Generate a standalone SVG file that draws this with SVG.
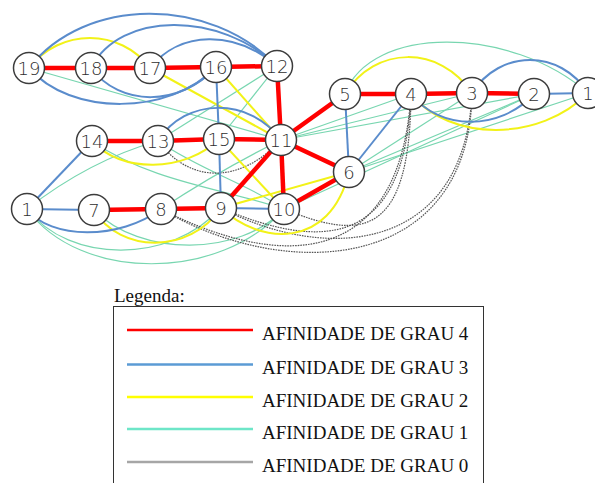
<svg xmlns="http://www.w3.org/2000/svg" width="595" height="483" viewBox="0 0 595 483">
  <style>
    .e4 { stroke: #ff0000; stroke-width: 4.5; fill: none; }
    .e3 { stroke: #5a8ccc; stroke-width: 2; fill: none; }
    .e2 { stroke: #f2f218; stroke-width: 2; fill: none; }
    .e1 { stroke: #78d6b0; stroke-width: 1.2; fill: none; }
    .e0 { stroke: #555555; stroke-width: 1.2; stroke-dasharray: 1.6 1; fill: none; }
    .node circle { fill: #ffffff; stroke: #3c3c3c; stroke-width: 1.5; }
    .node text { font-family: "DejaVu Sans", "Liberation Sans", sans-serif; font-weight: 200; font-size: 18px; fill: #2e2e2e; text-anchor: middle; }
    .leg { font-family: "Liberation Serif", "Times New Roman", serif; font-size: 19px; fill: #111111; }
  </style>
  <rect width="595" height="483" fill="#ffffff"/>

  <g id="connectors">
    <!-- grade 1 -->
    <path class="e1" d="M29,68 L281,140"/>
    <path class="e1" d="M277,66 L158,141"/>
    <path class="e1" d="M277,66 L219,139"/>
    <path class="e1" d="M281,140 L411,94"/>
    <path class="e1" d="M281,140 L472,93"/>
    <path class="e1" d="M281,140 L534,94"/>
    <path class="e1" d="M349,172 L472,93"/>
    <path class="e1" d="M349,172 L534,94"/>
    <path class="e1" d="M349,172 L588,93"/>
    <path class="e1" d="M284,209 L534,94"/>
    <path class="e1" d="M345,94 C370,25 510,25 588,93"/>
    <path class="e1" d="M27,209 Q90,160 158,141"/>
    <path class="e1" d="M161,209 Q220,170 281,140"/>
    <path class="e1" d="M92,141 C150,182 230,190 284,209"/>
    <path class="e1" d="M158,141 C200,170 250,185 284,209"/>
    <path class="e1" d="M27,209 C70,264 170,264 221,208"/>
    <path class="e1" d="M27,209 C80,282 220,282 284,209"/>
    <path class="e1" d="M94,210 C140,257 240,257 284,209"/>
    <!-- grade 0 -->
    <path class="e0" d="M158,141 C190,184 240,184 281,140"/>
    <path class="e0" d="M284,209 C360,240 410,240 411,94"/>
    <path class="e0" d="M221,208 C320,250 405,250 411,94"/>
    <path class="e0" d="M161,209 C280,270 400,270 411,94"/>
    <path class="e0" d="M161,209 C290,285 470,270 472,93"/>
    <path class="e0" d="M221,208 C330,265 465,250 472,93"/>
    <!-- grade 2 -->
    <path class="e2" d="M29,68 C60,28 120,28 150,68"/>
    <path class="e2" d="M150,68 L281,140"/>
    <path class="e2" d="M216,67 L281,140"/>
    <path class="e2" d="M219,139 L284,209"/>
    <path class="e2" d="M92,141 C120,173 185,173 219,139"/>
    <path class="e2" d="M221,208 L349,172"/>
    <path class="e2" d="M94,210 C120,254 190,254 221,208"/>
    <path class="e2" d="M221,208 C260,245 330,250 349,172"/>
    <path class="e2" d="M345,94 C375,45 440,45 472,93"/>
    <path class="e2" d="M411,94 C450,142 540,142 588,93"/>
    <!-- grade 3 -->
    <path class="e3" d="M29,68 C85,-4 210,-4 277,66"/>
    <path class="e3" d="M91,68 C120,11 220,11 277,66"/>
    <path class="e3" d="M150,68 C180,30 235,30 277,66"/>
    <path class="e3" d="M91,68 C120,107 180,107 216,67"/>
    <path class="e3" d="M29,68 C70,116 170,116 216,67"/>
    <path class="e3" d="M158,141 C185,97 250,97 281,140"/>
    <path class="e3" d="M216,67 L219,139"/>
    <path class="e3" d="M219,139 L221,208"/>
    <path class="e3" d="M92,141 L27,209"/>
    <path class="e3" d="M27,209 L94,210"/>
    <path class="e3" d="M27,209 C50,240 120,240 161,209"/>
    <path class="e3" d="M221,208 L284,209"/>
    <path class="e3" d="M345,94 L349,172"/>
    <path class="e3" d="M349,172 L411,94"/>
    <path class="e3" d="M411,94 C440,131 500,131 534,94"/>
    <path class="e3" d="M472,93 C500,49 560,49 588,93"/>
    <path class="e3" d="M534,94 L588,93"/>
    <!-- grade 4 -->
    <path class="e4" d="M29,68 L91,68 L150,68 L216,67 L277,66 L281,140"/>
    <path class="e4" d="M92,141 L158,141 L219,139 L281,140"/>
    <path class="e4" d="M281,140 L345,94 L411,94 L472,93 L534,94"/>
    <path class="e4" d="M281,140 L349,172 L284,209"/>
    <path class="e4" d="M281,140 L284,209"/>
    <path class="e4" d="M281,140 L221,208"/>
    <path class="e4" d="M94,210 L161,209 L221,208"/>
  </g>

  <g id="node-19" class="node"><circle cx="29" cy="68" r="15.5"/><text x="29" y="74.5">19</text></g>
  <g id="node-18" class="node"><circle cx="91" cy="68" r="15.5"/><text x="91" y="74.5">18</text></g>
  <g id="node-17" class="node"><circle cx="150" cy="68" r="15.5"/><text x="150" y="74.5">17</text></g>
  <g id="node-16" class="node"><circle cx="216" cy="67" r="15.5"/><text x="216" y="73.5">16</text></g>
  <g id="node-12" class="node"><circle cx="277" cy="66" r="15.5"/><text x="277" y="72.5">12</text></g>
  <g id="node-5" class="node"><circle cx="345" cy="94" r="15.5"/><text x="345" y="100.5">5</text></g>
  <g id="node-4" class="node"><circle cx="411" cy="94" r="15.5"/><text x="411" y="100.5">4</text></g>
  <g id="node-3" class="node"><circle cx="472" cy="93" r="15.5"/><text x="472" y="99.5">3</text></g>
  <g id="node-2" class="node"><circle cx="534" cy="94" r="15.5"/><text x="534" y="100.5">2</text></g>
  <g id="node-1b" class="node"><circle cx="588" cy="93" r="15.5"/><text x="588" y="99.5">1</text></g>
  <g id="node-14" class="node"><circle cx="92" cy="141" r="15.5"/><text x="92" y="147.5">14</text></g>
  <g id="node-13" class="node"><circle cx="158" cy="141" r="15.5"/><text x="158" y="147.5">13</text></g>
  <g id="node-15" class="node"><circle cx="219" cy="139" r="15.5"/><text x="219" y="145.5">15</text></g>
  <g id="node-11" class="node"><circle cx="281" cy="140" r="15.5"/><text x="281" y="146.5">11</text></g>
  <g id="node-6" class="node"><circle cx="349" cy="172" r="15.5"/><text x="349" y="178.5">6</text></g>
  <g id="node-1a" class="node"><circle cx="27" cy="209" r="15.5"/><text x="27" y="215.5">1</text></g>
  <g id="node-7" class="node"><circle cx="94" cy="210" r="15.5"/><text x="94" y="216.5">7</text></g>
  <g id="node-8" class="node"><circle cx="161" cy="209" r="15.5"/><text x="161" y="215.5">8</text></g>
  <g id="node-9" class="node"><circle cx="221" cy="208" r="15.5"/><text x="221" y="214.5">9</text></g>
  <g id="node-10" class="node"><circle cx="284" cy="209" r="15.5"/><text x="284" y="215.5">10</text></g>

  <g id="legend">
    <text class="leg" x="114" y="302">Legenda:</text>
    <rect x="113.5" y="306.5" width="370" height="200" fill="none" stroke="#333333" stroke-width="1"/>
    <line x1="127" y1="330" x2="253" y2="330" stroke="#ff0000" stroke-width="2.5"/>
    <text class="leg" x="262" y="340">AFINIDADE DE GRAU 4</text>
    <line x1="127" y1="364.5" x2="253" y2="364.5" stroke="#5b9bd5" stroke-width="2.5"/>
    <text class="leg" x="262" y="374">AFINIDADE DE GRAU 3</text>
    <line x1="127" y1="397" x2="253" y2="397" stroke="#ffff00" stroke-width="2.5"/>
    <text class="leg" x="262" y="407">AFINIDADE DE GRAU 2</text>
    <line x1="127" y1="429" x2="253" y2="429" stroke="#6ee6c8" stroke-width="2.5"/>
    <text class="leg" x="262" y="439">AFINIDADE DE GRAU 1</text>
    <line x1="127" y1="462" x2="253" y2="462" stroke="#a6a6a6" stroke-width="2.5"/>
    <text class="leg" x="262" y="472">AFINIDADE DE GRAU 0</text>
  </g>
</svg>
